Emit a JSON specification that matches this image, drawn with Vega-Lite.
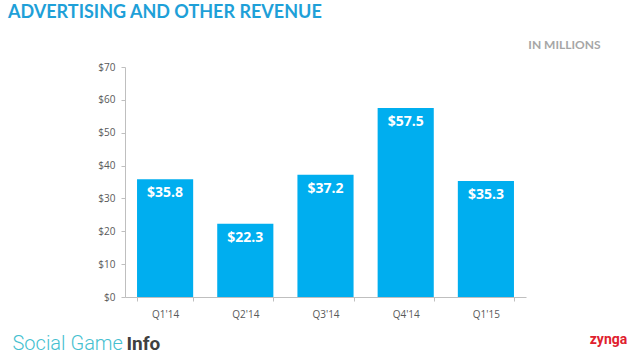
{
  "$schema": "https://vega.github.io/schema/vega-lite/v6.json",
  "autosize": "none",
  "width": 401,
  "height": 230,
  "padding": {"left": 125, "top": 67, "right": 114, "bottom": 58},
  "background": "white",
  "title": {
    "text": "ADVERTISING AND OTHER REVENUE",
    "anchor": "start",
    "frame": "group",
    "dx": -117,
    "dy": -12,
    "font": "Lato",
    "fontSize": 18,
    "fontWeight": "bold",
    "color": "#1ea0d8"
  },
  "data": {
    "values": [
      {"quarter": "Q1'14", "revenue": 35.8},
      {"quarter": "Q2'14", "revenue": 22.3},
      {"quarter": "Q3'14", "revenue": 37.2},
      {"quarter": "Q4'14", "revenue": 57.5},
      {"quarter": "Q1'15", "revenue": 35.3}
    ]
  },
  "encoding": {
    "x": {
      "field": "quarter",
      "type": "nominal",
      "sort": null,
      "scale": {"paddingInner": 0.3, "paddingOuter": 0.15}
    },
    "y": {
      "field": "revenue",
      "type": "quantitative",
      "scale": {"domain": [0, 70]}
    }
  },
  "layer": [
    {
      "mark": {"type": "bar", "color": "#00aeef"},
      "encoding": {
        "x": {
          "field": "quarter",
          "type": "nominal",
          "sort": null,
          "axis": {
            "orient": "bottom",
            "title": "Social Game",
            "titleX": -113,
            "titleY": 46,
            "titleAlign": "left",
            "titleBaseline": "middle",
            "titleFont": "Roboto",
            "titleFontWeight": 300,
            "titleFontSize": 20,
            "titleColor": "#45bfd0",
            "labelAngle": 0,
            "labelFont": "Open Sans",
            "labelFontSize": 10,
            "labelColor": "#595959",
            "labelPadding": 8,
            "domainColor": "#bfbfbf",
            "tickColor": "#bfbfbf",
            "tickBand": "extent",
            "tickSize": 4
          }
        },
        "y": {
          "field": "revenue",
          "type": "quantitative",
          "axis": {
            "orient": "left",
            "values": [0, 10, 20, 30, 40, 50, 60, 70],
            "format": "$d",
            "grid": false,
            "title": "IN MILLIONS",
            "titleAngle": 0,
            "titleX": 475,
            "titleY": -23,
            "titleAlign": "right",
            "titleBaseline": "middle",
            "titleFont": "Lato",
            "titleFontSize": 12,
            "titleFontWeight": "bold",
            "titleColor": "#a6a6a6",
            "labelFont": "Open Sans",
            "labelFontSize": 10,
            "labelColor": "#595959",
            "labelPadding": 6,
            "domainColor": "#bfbfbf",
            "tickColor": "#bfbfbf",
            "tickSize": 4
          }
        }
      }
    },
    {
      "mark": {
        "type": "text",
        "color": "white",
        "font": "Open Sans",
        "fontSize": 14,
        "fontWeight": "bold",
        "baseline": "middle",
        "dy": 14
      },
      "encoding": {
        "x": {
          "field": "quarter",
          "type": "nominal",
          "sort": null,
          "axis": {
            "orient": "top",
            "labels": false,
            "ticks": false,
            "domain": false,
            "title": "Info",
            "titleX": 1,
            "titleY": 276,
            "titleAlign": "left",
            "titleBaseline": "middle",
            "titleFont": "Roboto",
            "titleFontWeight": "bold",
            "titleFontSize": 19,
            "titleColor": "#404040"
          }
        },
        "y": {
          "field": "revenue",
          "type": "quantitative",
          "axis": {
            "orient": "right",
            "labels": false,
            "ticks": false,
            "domain": false,
            "grid": false,
            "title": "zynga",
            "titleAngle": 0,
            "titleX": 82,
            "titleY": 272,
            "titleAlign": "center",
            "titleBaseline": "middle",
            "titleFont": "Roboto",
            "titleFontWeight": "bold",
            "titleFontSize": 14,
            "titleColor": "#e0202e"
          }
        },
        "text": {"field": "revenue", "type": "quantitative", "format": "$.1f"}
      }
    }
  ],
  "resolve": {"axis": {"x": "independent", "y": "independent"}},
  "config": {"view": {"stroke": null}}
}
